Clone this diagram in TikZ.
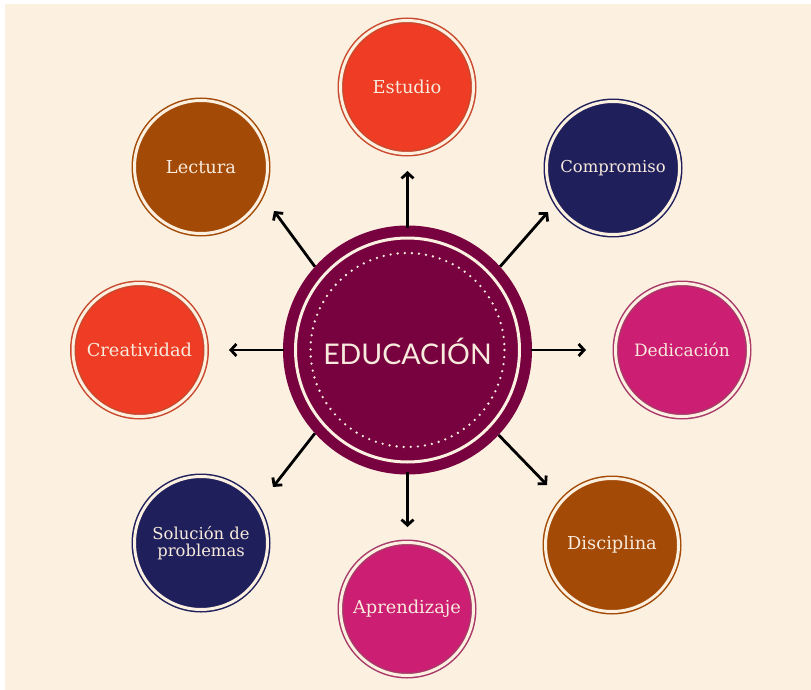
\documentclass[tikz,border=0pt]{standalone}
\usepackage{fontspec}
\setmainfont{DejaVu Serif}
\newfontfamily\titlefont{Lato}
\usetikzlibrary{arrows.meta}
\definecolor{bgcream}{HTML}{FCF0E0}
\definecolor{txtcream}{HTML}{F8EADC}
\definecolor{cred}{HTML}{EE3D24}
\definecolor{credring}{HTML}{C9492E}
\definecolor{cbrown}{HTML}{A34A07}
\definecolor{cnavy}{HTML}{1F1F5C}
\definecolor{cmag}{HTML}{CC1E72}
\definecolor{cmagring}{HTML}{A8396A}
\definecolor{cmaroon}{HTML}{77023F}
\tikzset{
  bubble/.style 2 args={circle, fill=#1, draw=#2, double=bgcream, double distance=3pt,
    line width=1.5pt, minimum size=133pt, inner sep=0pt, align=center,
    text=txtcream, font=\fontsize{17.8}{17}\selectfont},
  small/.style={font=\fontsize{16.4}{17}\selectfont},
  link/.style={draw=black, line width=2.8pt, -{Straight Barb[length=5.5pt,width=12pt,line width=2.8pt]}},
}
\begin{document}
\begin{tikzpicture}[x=1pt,y=-1pt]
\useasboundingbox (0,0) rectangle (811,690);
\fill[white] (0,0) rectangle (811,690);
\fill[bgcream] (5,4) rectangle (811,690);

% centre
\node[circle, fill=cmaroon, minimum size=249pt, inner sep=0pt] (edu) at (407.5,350) {};
\draw[bgcream, line width=3pt] (edu.center) circle (112);
\draw[txtcream, line width=2.6pt, line cap=round, dash pattern=on 0pt off 7.1pt] (edu.center) circle (97);
\node[text=txtcream, font=\titlefont\fontsize{28.5}{30}\selectfont] (edutxt) at (407.5,351) {EDUCACIÓN};

% satellites
\node[bubble={cred}{credring}]   (estudio) at (407,87)  {Estudio};
\node[bubble={cbrown}{cbrown}] (lectura) at (201,167) {Lectura};
\node[bubble={cnavy}{cnavy}, small]  (compromiso) at (613,168) {Compromiso};
\node[bubble={cred}{credring}]   (creatividad) at (139.5,350) {Creatividad};
\node[bubble={cmag}{cmagring}, font=\fontsize{17}{17}\selectfont]   (dedicacion) at (682,350) {Dedicación};
\node[bubble={cnavy}{cnavy}, small]  (solucion) at (201,543) {Solución de\\problemas};
\node[bubble={cbrown}{cbrown}] (disciplina) at (612,545) {Disciplina};
\node[bubble={cmag}{cmagring}]   (aprendizaje) at (407,609) {Aprendizaje};

% arrow ends
\coordinate (aN) at (407.5,171);
\coordinate (aS) at (407.5,527);
\coordinate (aW) at (229,350);
\coordinate (aE) at (586,350);
\coordinate (aNW) at (274,211);
\coordinate (aNE) at (548,212);
\coordinate (aSW) at (273,487);
\coordinate (aSE) at (547,485);

\draw[link] (edu.90) ++(0,3) -- (aN);
\draw[link] (edu.270) ++(0,-3) -- (aS);
\draw[link] (edu.180) ++(1,0) -- (aW);
\draw[link] (edu.0) ++(-1,0) -- (aE);
\draw[link] (edu.138) -- (aNW);
\draw[link] (edu.42) -- (aNE);
\draw[link] (edu.222) -- (aSW);
\draw[link] (edu.317) -- (aSE);
\end{tikzpicture}
\end{document}
